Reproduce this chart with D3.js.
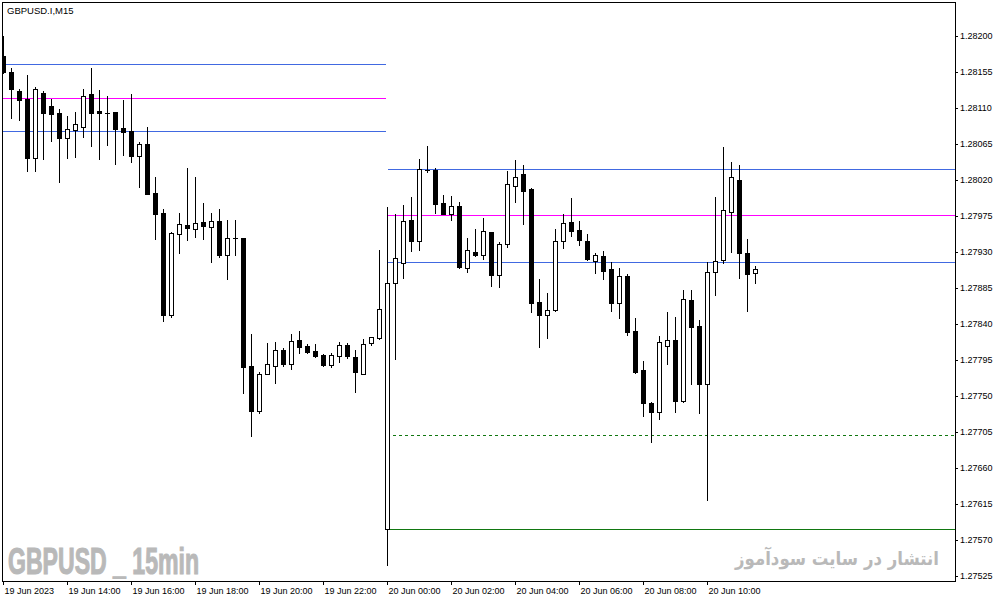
<!DOCTYPE html>
<html>
<head>
<meta charset="utf-8">
<script src="https://cdn.jsdelivr.net/npm/d3@7"></script>
<style>
  html, body { margin: 0; padding: 0; background: #ffffff; }
  svg { display: block; }
</style>
</head>
<body>
<svg id="chart" width="1001" height="602"></svg>
<script>
// ---------------- DATA ----------------
const symbolTitle = "GBPUSD.I,M15";
const watermarkLeft = "GBPUSD _ 15min";
const watermarkRight = "انتشار در سایت سودآموز";

// 15-minute candles, 19 Jun 2023 12:00 -> 20 Jun 2023 11:30
const open = [
1.28175,1.28155,1.28131,1.28121,1.28048,1.28129,1.28113,1.28104,1.28073,1.28083,
1.28086,1.28128,1.28106,1.28104,1.28105,1.28085,1.28081,1.28050,1.28065,1.28004,
1.27979,1.27851,1.27953,1.27964,1.27959,1.27968,1.27961,1.27969,1.27926,1.27947,
1.27948,1.27788,1.27731,1.27778,1.27788,1.27808,1.27790,1.27820,1.27813,1.27806,
1.27801,1.27789,1.27800,1.27814,1.27799,1.27778,1.27816,1.27823,1.27584,1.27891,
1.27916,1.27970,1.27944,1.28033,1.28033,1.27991,1.27978,1.27988,1.27910,1.27930,
1.27926,1.27955,1.27901,1.27940,1.28013,1.28028,1.28009,1.27868,1.27851,1.27858,
1.27944,1.27968,1.27958,1.27944,1.27919,1.27925,1.27909,1.27866,1.27900,1.27831,
1.27783,1.27741,1.27730,1.27813,1.27820,1.27744,1.27870,1.27838,1.27765,1.27905,
1.27920,1.27980,1.28020,1.27929,1.27904];
const high = [
1.28200,1.28160,1.28134,1.28151,1.28136,1.28131,1.28121,1.28109,1.28100,1.28105,
1.28134,1.28160,1.28133,1.28125,1.28105,1.28120,1.28128,1.28068,1.28086,1.28024,
1.27984,1.27955,1.27979,1.28035,1.28024,1.27991,1.27979,1.27984,1.27970,1.27970,
1.27948,1.27828,1.27780,1.27816,1.27818,1.27810,1.27828,1.27831,1.27815,1.27815,
1.27803,1.27804,1.27818,1.27816,1.27808,1.27821,1.27824,1.27933,1.27986,1.27978,
1.27989,1.27999,1.28046,1.28063,1.28035,1.28001,1.28000,1.27993,1.27948,1.27959,
1.27973,1.27955,1.27943,1.28031,1.28045,1.28039,1.28010,1.27896,1.27879,1.27959,
1.27978,1.27998,1.27969,1.27953,1.27929,1.27931,1.27918,1.27910,1.27903,1.27848,
1.27794,1.27742,1.27825,1.27855,1.27849,1.27883,1.27883,1.27845,1.27918,1.27999,
1.28061,1.28043,1.28039,1.27946,1.27913];
const low = [
1.28154,1.28098,1.28095,1.28031,1.28031,1.28046,1.28069,1.28018,1.28048,1.28049,
1.28074,1.28063,1.28046,1.28064,1.28040,1.28051,1.28043,1.28011,1.28002,1.27946,
1.27844,1.27849,1.27929,1.27945,1.27949,1.27946,1.27918,1.27924,1.27896,1.27926,
1.27754,1.27700,1.27729,1.27777,1.27766,1.27787,1.27784,1.27804,1.27804,1.27799,
1.27787,1.27786,1.27793,1.27798,1.27755,1.27777,1.27814,1.27821,1.27539,1.27796,
1.27898,1.27931,1.27933,1.28030,1.27979,1.27977,1.27970,1.27910,1.27905,1.27925,
1.27921,1.27888,1.27886,1.27936,1.27993,1.27965,1.27855,1.27811,1.27823,1.27856,
1.27935,1.27950,1.27939,1.27920,1.27904,1.27896,1.27856,1.27848,1.27826,1.27779,
1.27725,1.27693,1.27721,1.27790,1.27730,1.27743,1.27765,1.27729,1.27620,1.27876,
1.27916,1.27930,1.27898,1.27856,1.27891];
const close = [
1.28155,1.28134,1.28120,1.28048,1.28134,1.28104,1.28103,1.28073,1.28084,1.28090,
1.28125,1.28104,1.28104,1.28104,1.28084,1.28080,1.28050,1.28065,1.28003,1.27978,
1.27851,1.27954,1.27965,1.27960,1.27966,1.27963,1.27969,1.27926,1.27948,1.27947,
1.27786,1.27731,1.27778,1.27790,1.27808,1.27790,1.27819,1.27811,1.27805,1.27800,
1.27789,1.27801,1.27814,1.27800,1.27780,1.27815,1.27824,1.27859,1.27891,1.27923,
1.27969,1.27944,1.28034,1.28033,1.27990,1.27978,1.27988,1.27911,1.27933,1.27926,
1.27956,1.27901,1.27940,1.28015,1.28024,1.28006,1.27866,1.27851,1.27858,1.27944,
1.27966,1.27956,1.27945,1.27921,1.27926,1.27906,1.27866,1.27900,1.27830,1.27780,
1.27741,1.27730,1.27818,1.27820,1.27744,1.27871,1.27836,1.27765,1.27905,1.27919,
1.27983,1.28024,1.27929,1.27903,1.27909];

// Horizontal level lines: previous-day block (left) and current-day block (right)
const leftLevels  = [1.28165, 1.28122, 1.28081];
const leftColors  = ["#4169e1", "#ff00ff", "#4169e1"];
const rightLevels = [1.28034, 1.27976, 1.27918];
const rightColors = ["#4169e1", "#ff00ff", "#4169e1"];
const dashedLevel = 1.27701;
const solidLevel  = 1.27584;

// Axis ticks
const yTickValues = [1.28200,1.28155,1.28110,1.28065,1.28020,1.27975,1.27930,1.27885,
                     1.27840,1.27795,1.27750,1.27705,1.27660,1.27615,1.27570,1.27525];
const xTickIndex  = [0, 8, 16, 24, 32, 40, 48, 56, 64, 72, 80, 88];
const xTickLabels = ["19 Jun 2023","19 Jun 14:00","19 Jun 16:00","19 Jun 18:00","19 Jun 20:00",
                     "19 Jun 22:00","20 Jun 00:00","20 Jun 02:00","20 Jun 04:00","20 Jun 06:00",
                     "20 Jun 08:00","20 Jun 10:00"];

// ---------------- LAYOUT ----------------
const svg = d3.select("#chart");
const plotLeft = 2, plotRight = 955, plotTop = 2, plotBottom = 581;
const font = "'Liberation Sans', Arial, sans-serif";

const x = d3.scaleLinear().domain([0, open.length - 1]).range([3, 3 + 8 * (open.length - 1)]);
const y = d3.scaleLinear().domain([1.27525, 1.28200]).range([576, 36]);

svg.append("rect").attr("width", 1001).attr("height", 602).attr("fill", "#ffffff");

svg.append("defs").append("clipPath").attr("id", "plotclip")
  .append("rect").attr("x", plotLeft).attr("y", plotTop)
  .attr("width", plotRight - plotLeft).attr("height", plotBottom - plotTop);

const plot = svg.append("g").attr("clip-path", "url(#plotclip)");

// watermarks
svg.append("text")
  .attr("x", 8).attr("y", 574)
  .attr("font-family", "'Liberation Sans Narrow', 'Liberation Sans', Arial, sans-serif")
  .attr("font-weight", "bold").attr("font-size", 36)
  .attr("fill", "#b9b9b9").attr("stroke", "#b9b9b9").attr("stroke-width", 1.2)
  .attr("textLength", 191).attr("lengthAdjust", "spacingAndGlyphs")
  .text(watermarkLeft);

svg.append("text")
  .attr("x", 939).attr("y", 565)
  .attr("text-anchor", "end")
  .attr("font-family", "'DejaVu Sans', sans-serif")
  .attr("font-weight", "bold")
  .attr("font-size", 19)
  .attr("fill", "#b9b9b9")
  .attr("textLength", 204).attr("lengthAdjust", "spacingAndGlyphs")
  .text(watermarkRight);

// level lines
const ry = v => Math.round(y(v)) + 0.5;
leftLevels.forEach((v, i) => {
  plot.append("line").attr("x1", plotLeft).attr("x2", 386)
    .attr("y1", ry(v)).attr("y2", ry(v))
    .attr("stroke", leftColors[i]).attr("stroke-width", 1);
});
rightLevels.forEach((v, i) => {
  plot.append("line").attr("x1", 388).attr("x2", plotRight)
    .attr("y1", ry(v)).attr("y2", ry(v))
    .attr("stroke", rightColors[i]).attr("stroke-width", 1);
});
plot.append("line").attr("x1", 393).attr("x2", plotRight)
  .attr("y1", ry(dashedLevel)).attr("y2", ry(dashedLevel))
  .attr("stroke", "#117711").attr("stroke-width", 1).attr("stroke-dasharray", "3,3");
plot.append("line").attr("x1", 388).attr("x2", plotRight)
  .attr("y1", ry(solidLevel)).attr("y2", ry(solidLevel))
  .attr("stroke", "#117711").attr("stroke-width", 1);

// candles
const candles = d3.range(open.length).map(i => ({ i, o: open[i], h: high[i], l: low[i], c: close[i] }));
const cg = plot.selectAll("g.candle").data(candles).join("g").attr("class", "candle");
cg.each(function(d) {
  const g = d3.select(this);
  const cx = Math.round(x(d.i));
  const yH = Math.round(y(d.h)), yL = Math.round(y(d.l));
  const yT = Math.round(y(Math.max(d.o, d.c))), yB = Math.round(y(Math.min(d.o, d.c)));
  g.append("rect").attr("x", cx).attr("y", yH).attr("width", 1).attr("height", yL - yH + 1).attr("fill", "#000");
  if (yT === yB) {
    g.append("rect").attr("x", cx - 2).attr("y", yT).attr("width", 5).attr("height", 1).attr("fill", "#000");
  } else if (d.c < d.o) {
    g.append("rect").attr("x", cx - 2).attr("y", yT).attr("width", 5).attr("height", yB - yT + 1).attr("fill", "#000");
  } else {
    g.append("rect").attr("x", cx - 2).attr("y", yT).attr("width", 5).attr("height", yB - yT + 1).attr("fill", "#000");
    if (yB - yT - 1 > 0) {
      g.append("rect").attr("x", cx - 1).attr("y", yT + 1).attr("width", 3).attr("height", yB - yT - 1).attr("fill", "#fff");
    }
  }
});

// frame
svg.append("rect").attr("x", plotLeft + 0.5).attr("y", plotTop + 0.5)
  .attr("width", plotRight - plotLeft).attr("height", plotBottom - plotTop)
  .attr("fill", "none").attr("stroke", "#000").attr("stroke-width", 1);

// y axis (right)
const yAxis = d3.axisRight(y).tickValues(yTickValues).tickSize(3).tickPadding(2)
  .tickFormat(d3.format(".5f"));
const yg = svg.append("g").attr("transform", `translate(${plotRight},0)`).call(yAxis);
yg.select(".domain").remove();
yg.selectAll("text").attr("font-family", font).attr("font-size", 9).attr("fill", "#000");

// x axis (bottom)
const xAxis = d3.axisBottom(x).tickValues(xTickIndex).tickSize(4).tickPadding(3)
  .tickFormat((d, i) => xTickLabels[i]);
const xg = svg.append("g").attr("transform", `translate(0,${plotBottom})`).call(xAxis);
xg.select(".domain").remove();
xg.selectAll("text").attr("font-family", font).attr("font-size", 9).attr("fill", "#000")
  .attr("text-anchor", "start").attr("x", 1);

// title
svg.append("text").attr("x", 7).attr("y", 14)
  .attr("font-family", font).attr("font-size", 9.5).attr("fill", "#000")
  .text(symbolTitle);
</script>
</body>
</html>
